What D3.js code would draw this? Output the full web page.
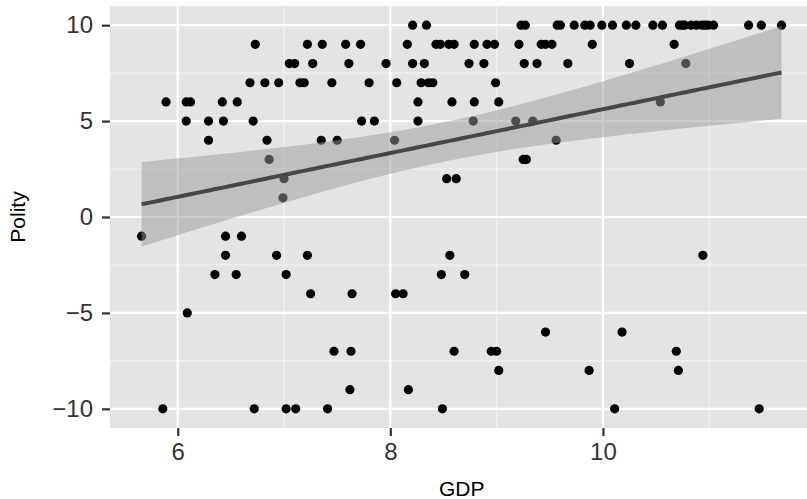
<!DOCTYPE html>
<html>
<head>
<meta charset="utf-8">
<script src="https://cdn.jsdelivr.net/npm/d3@7"></script>
<style>
  body { margin: 0; background: #fff; }
  svg { display: block; font-family: "Liberation Sans", Arial, sans-serif; }
</style>
</head>
<body>
<div id="canvas"></div>
<script>
// GDP (log) and polity score per country
const gdp = [
  // polity 10
  8.21, 8.34, 9.23, 9.27, 9.57, 9.60, 9.73, 9.83, 9.88, 9.99, 10.09, 10.22, 10.31,
  10.47, 10.56, 10.72, 10.75, 10.77, 10.83, 10.88, 10.93, 10.96, 10.99, 11.04, 11.37, 11.49, 11.68,
  // 9
  6.73, 7.22, 7.36, 7.58, 7.72, 8.16, 8.43, 8.47, 8.55, 8.60, 8.79, 8.91, 8.98, 9.21,
  9.42, 9.46, 9.52, 9.90, 10.67,
  // 8
  7.05, 7.10, 7.27, 7.61, 7.96, 8.21, 8.32, 8.74, 8.88, 9.26, 9.38, 9.67, 10.25, 10.78,
  // 7
  6.68, 6.82, 6.95, 7.15, 7.19, 7.45, 7.80, 8.06, 8.29, 8.36, 8.40, 8.99,
  // 6
  5.89, 6.08, 6.12, 6.42, 6.56, 8.26, 8.58, 8.79, 9.02, 10.54,
  // 5
  6.08, 6.29, 6.43, 6.71, 7.73, 7.85, 8.26, 8.78, 9.18, 9.34,
  // 4
  6.29, 6.84, 7.35, 7.50, 8.04, 9.56,
  // 3, 2, 1
  6.86, 9.25, 9.28,
  7.00, 8.53, 8.62,
  6.99,
  // -1 .. -5
  5.66, 6.45, 6.60,
  6.45, 6.93, 7.22, 8.56, 10.94,
  6.35, 6.55, 7.02, 8.48, 8.70,
  7.25, 7.64, 8.05, 8.12,
  6.09,
  // -6 .. -10
  9.46, 10.18,
  7.47, 7.63, 8.60, 8.95, 9.00, 10.69,
  9.02, 9.87, 10.71,
  7.62, 8.17,
  5.86, 6.72, 7.02, 7.11, 7.41, 8.49, 10.11, 11.47
];
const polity = [
  10, 10, 10, 10, 10, 10, 10, 10, 10, 10, 10, 10, 10,
  10, 10, 10, 10, 10, 10, 10, 10, 10, 10, 10, 10, 10, 10,
  9, 9, 9, 9, 9, 9, 9, 9, 9, 9, 9, 9, 9, 9,
  9, 9, 9, 9, 9,
  8, 8, 8, 8, 8, 8, 8, 8, 8, 8, 8, 8, 8, 8,
  7, 7, 7, 7, 7, 7, 7, 7, 7, 7, 7, 7,
  6, 6, 6, 6, 6, 6, 6, 6, 6, 6,
  5, 5, 5, 5, 5, 5, 5, 5, 5, 5,
  4, 4, 4, 4, 4, 4,
  3, 3, 3,
  2, 2, 2,
  1,
  -1, -1, -1,
  -2, -2, -2, -2, -2,
  -3, -3, -3, -3, -3,
  -4, -4, -4, -4,
  -5,
  -6, -6,
  -7, -7, -7, -7, -7, -7,
  -8, -8, -8,
  -9, -9,
  -10, -10, -10, -10, -10, -10, -10, -10
];

const xTicks = [6, 8, 10];
const xMinor = [7, 9, 11];
const yTicks = [-10, -5, 0, 5, 10];
const yMinor = [-7.5, -2.5, 2.5, 7.5];

const data = gdp.map((g, i) => ({ gdp: g, polity: polity[i] }));

const width = 807;
const height = 499;
const panel = { left: 110, top: 6, right: 813.4, bottom: 428 };

const svg = d3.select("#canvas").append("svg")
    .attr("width", width)
    .attr("height", height);

const x = d3.scaleLinear()
    .domain([5.363, 11.98])
    .range([panel.left, panel.right]);

const y = d3.scaleLinear()
    .domain([-11, 11])
    .range([panel.bottom, panel.top]);

// panel background + grid
svg.append("rect")
    .attr("x", panel.left)
    .attr("y", panel.top)
    .attr("width", panel.right - panel.left)
    .attr("height", panel.bottom - panel.top)
    .style("fill", "#e4e4e4");

const grid = svg.append("g");
grid.selectAll(".xminor").data(xMinor).enter().append("line")
    .attr("x1", d => x(d)).attr("x2", d => x(d))
    .attr("y1", panel.top).attr("y2", panel.bottom)
    .style("stroke", "#f4f4f4").style("stroke-width", 1.1);
grid.selectAll(".yminor").data(yMinor).enter().append("line")
    .attr("x1", panel.left).attr("x2", panel.right)
    .attr("y1", d => y(d)).attr("y2", d => y(d))
    .style("stroke", "#f4f4f4").style("stroke-width", 1.1);
grid.selectAll(".xmajor").data(xTicks).enter().append("line")
    .attr("x1", d => x(d)).attr("x2", d => x(d))
    .attr("y1", panel.top).attr("y2", panel.bottom)
    .style("stroke", "#ffffff").style("stroke-width", 2.2);
grid.selectAll(".ymajor").data(yTicks).enter().append("line")
    .attr("x1", panel.left).attr("x2", panel.right)
    .attr("y1", d => y(d)).attr("y2", d => y(d))
    .style("stroke", "#ffffff").style("stroke-width", 2.2);

// points
svg.append("g").selectAll("circle").data(data).enter().append("circle")
    .attr("cx", d => x(d.gdp))
    .attr("cy", d => y(d.polity))
    .attr("r", 4.6)
    .style("fill", "#000");

// linear fit with 95% band (like geom_smooth(method = "lm"))
const n = data.length;
const mx = d3.mean(gdp);
const my = d3.mean(polity);
const sxx = d3.sum(gdp, g => (g - mx) * (g - mx));
const sxy = d3.sum(data, d => (d.gdp - mx) * (d.polity - my));
const b1 = sxy / sxx;
const b0 = my - b1 * mx;
const s = Math.sqrt(d3.sum(data, d => Math.pow(d.polity - (b0 + b1 * d.gdp), 2)) / (n - 2));
const tq = 1.977; // qt(0.975, df ~ 140)

const [gmin, gmax] = d3.extent(gdp);
const fit = d3.range(80).map(i => {
  const g = gmin + (gmax - gmin) * i / 79;
  const yhat = b0 + b1 * g;
  const se = s * Math.sqrt(1 / n + (g - mx) * (g - mx) / sxx);
  return { gdp: g, fit: yhat, lo: yhat - tq * se, hi: yhat + tq * se };
});

svg.append("path")
    .datum(fit)
    .attr("d", d3.area().x(d => x(d.gdp)).y0(d => y(d.lo)).y1(d => y(d.hi)))
    .style("fill", "#999999")
    .style("fill-opacity", 0.5);

svg.append("path")
    .datum(fit)
    .attr("d", d3.line().x(d => x(d.gdp)).y(d => y(d.fit)))
    .style("fill", "none")
    .style("stroke", "#474747")
    .style("stroke-width", 4);

// axes
const xAxis = svg.append("g")
    .attr("transform", `translate(0, ${panel.bottom})`)
    .call(d3.axisBottom(x).tickValues(xTicks).tickFormat(d3.format("d")).tickSize(8).tickPadding(7));

const yAxis = svg.append("g")
    .attr("transform", `translate(${panel.left}, 0)`)
    .call(d3.axisLeft(y).tickValues(yTicks).tickFormat(d3.format("d")).tickSize(8).tickPadding(9));

[xAxis, yAxis].forEach(a => {
  a.select(".domain").remove();
  a.selectAll(".tick line").style("stroke", "#333").style("stroke-width", 2.2);
  a.selectAll(".tick text")
      .style("font-family", "Liberation Sans, Arial, sans-serif")
      .style("font-size", "24px")
      .style("fill", "#333");
});

svg.append("text")
    .attr("x", (panel.left + panel.right) / 2)
    .attr("y", 496)
    .attr("text-anchor", "middle")
    .style("font-size", "21px")
    .style("fill", "#000")
    .text("GDP");

svg.append("text")
    .attr("transform", `translate(25, ${(panel.top + panel.bottom) / 2}) rotate(-90)`)
    .attr("text-anchor", "middle")
    .style("font-size", "21px")
    .style("fill", "#000")
    .text("Polity");
</script>
</body>
</html>
